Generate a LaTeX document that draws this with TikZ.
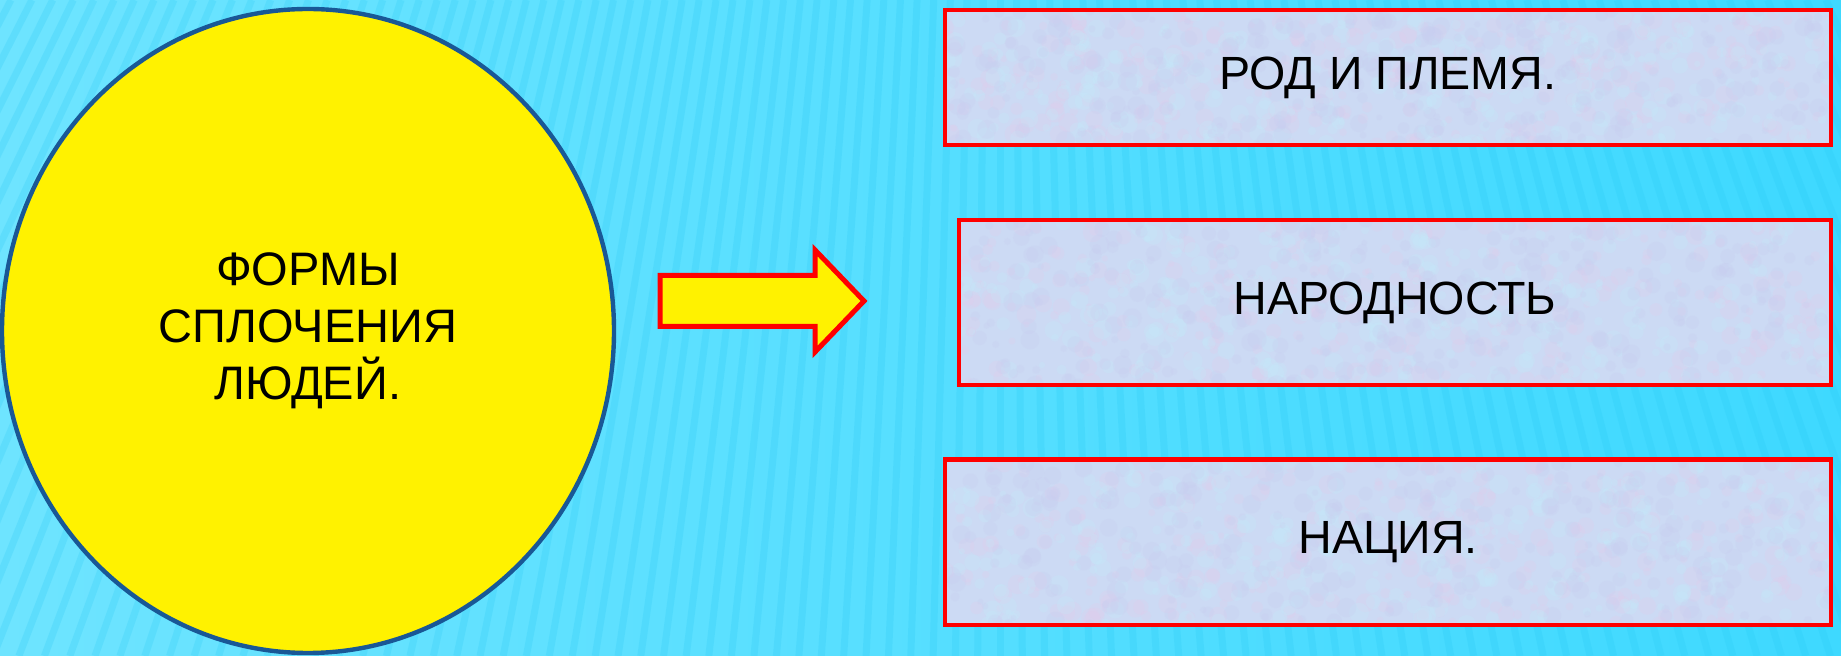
\documentclass[tikz,border=0pt]{standalone}
\usepackage{fontspec}
\setmainfont{Liberation Sans}
\usetikzlibrary{shapes.geometric}
\definecolor{bgL}{RGB}{110,228,255}
\definecolor{bgR}{RGB}{62,217,255}
\definecolor{stripecol}{RGB}{40,200,245}
\definecolor{ringblue}{RGB}{25,88,150}
\definecolor{boxfill}{RGB}{204,218,244}
\definecolor{pinkish}{RGB}{226,204,236}
\definecolor{cyanish}{RGB}{196,234,250}
\definecolor{lilac}{RGB}{200,206,240}
\newcommand{\speckbox}[4]{%
  \fill[boxfill] (#1,#2) rectangle (#3,#4);
  \begin{scope}
    \clip (#1,#2) rectangle (#3,#4);
    \foreach \col in {pinkish,cyanish,lilac}{%
      \foreach \k in {1,...,300}{%
        \pgfmathsetmacro{\px}{#1+rnd*(#3-#1)}%
        \pgfmathsetmacro{\py}{#2+rnd*(#4-#2)}%
        \pgfmathsetmacro{\rr}{1.5+rnd*3.5}%
        \fill[\col,opacity=0.25] (\px,\py) circle[radius=\rr pt];
      }}
  \end{scope}}
\begin{document}
\begin{tikzpicture}[x=0.5pt,y=-0.5pt,
  formbox/.style={draw=red, line width=2.2pt, text=black, inner sep=0pt,
    font=\fontsize{23.3pt}{27pt}\selectfont},
  hub/.style={ellipse, draw=ringblue, line width=2.2pt, fill=yellow, align=center,
    text=black, inner sep=0pt, minimum width=306pt, minimum height=322pt,
    font=\fontsize{23.5pt}{28.5pt}\selectfont},
  blockarrow/.style={draw=red, fill=yellow, line width=2.5pt, line join=miter},
  stripe/.style={stripecol, line width=3.5pt, opacity=0.22}]
\pgfmathsetseed{7}
\useasboundingbox (0,0) rectangle (1841,656);
% background
\shade[left color=bgL, right color=bgR] (0,0) rectangle (1841,656);
\begin{scope}
  \clip (0,0) rectangle (1841,656);
  \foreach \a in {-28,-27.5,...,24}{%
    \draw[stripe] ({1000+1900*tan(\a)},0) -- ({1000+2556*tan(\a)},656);
  }
\end{scope}
% textured box backgrounds
\speckbox{945}{10}{1831}{145}
\speckbox{959}{220}{1831}{385}
\speckbox{945}{459.5}{1831}{625}
% circle
\node[hub] (forms) at (308,331) {\raisebox{-1.5pt}{ФОРМЫ}\\\raisebox{-1.5pt}{СПЛОЧЕНИЯ}\\\raisebox{-1.5pt}{ЛЮДЕЙ.}};
% block arrow
\draw[blockarrow] (660,275.5) -- (815,275.5) -- (815,250) -- (864,301)
  -- (815,352) -- (815,326.5) -- (660,326.5) -- cycle;
% boxes
\node[formbox, minimum width=443pt, minimum height=67.5pt] (rod) at (1388,77.5) {РОД И ПЛЕМЯ.};
\node[formbox, minimum width=436pt, minimum height=82.5pt] (narod) at (1395,302.5) {НАРОДНОСТЬ};
\node[formbox, minimum width=443pt, minimum height=82.75pt] (nacia) at (1388,542.25) {НАЦИЯ.};
\end{tikzpicture}
\end{document}
